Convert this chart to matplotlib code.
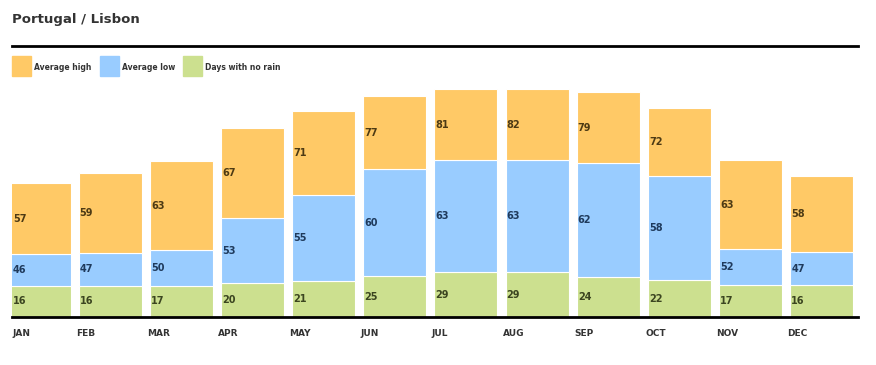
import numpy as np
import matplotlib.pyplot as plt

plt.rcParams["font.family"] = "DejaVu Sans"

# Data
months = ['JAN', 'FEB', 'MAR', 'APR', 'MAY', 'JUN', 'JUL', 'AUG', 'SEP', 'OCT', 'NOV', 'DEC']
avg_high = [57, 59, 63, 67, 71, 77, 81, 82, 79, 72, 63, 58]
avg_low = [46, 47, 50, 53, 55, 60, 63, 63, 62, 58, 52, 47]
dry_days = [16, 16, 17, 20, 21, 25, 29, 29, 24, 22, 17, 16]

# segment heights as drawn in the source chart (not proportional to the labels)
seg_dry = [31, 31, 31, 34, 36, 41, 45, 45, 40, 37, 32, 32]
seg_low = [32, 33, 36, 65, 86, 107, 112, 112, 114, 104, 36, 33]
seg_high = [71, 80, 89, 90, 84, 73, 71, 71, 71, 68, 89, 76]

c_high = '#FFC966'
c_low = '#99CCFF'
c_dry = '#CCE08F'
txt = '#333333'

W, H = 876, 365
fig = plt.figure(figsize=(W / 100, H / 100), dpi=100)

# axes: x 12..858 px, y 80..317 px
ax = fig.add_axes([12 / W, (H - 317) / H, 846 / W, 237 / H])
x = np.arange(len(months))
width = 0.886
x_left = -0.38

bot_low = np.array(seg_dry)
bot_high = bot_low + np.array(seg_low)
ax.bar(x, seg_dry, width, color=c_dry, edgecolor='white', linewidth=0.8)
ax.bar(x, seg_low, width, bottom=bot_low, color=c_low, edgecolor='white', linewidth=0.8)
ax.bar(x, seg_high, width, bottom=bot_high, color=c_high, edgecolor='white', linewidth=0.8)

ax.set_xlim(x_left, 11.51)
ax.set_ylim(0, 237)
ax.axis('off')
ax.axhline(0, color='black', linewidth=2, clip_on=False)

# value labels, left aligned inside each segment
for i in range(len(months)):
    lx = max(i - width / 2, x_left) + 0.015
    ax.text(lx, seg_dry[i] / 2, str(dry_days[i]), ha='left', va='center',
            fontsize=7, fontweight='bold', color='#3B4520')
    ax.text(lx, bot_low[i] + seg_low[i] / 2, str(avg_low[i]), ha='left', va='center',
            fontsize=7, fontweight='bold', color='#1F3A5C')
    ax.text(lx, bot_high[i] + seg_high[i] / 2, str(avg_high[i]), ha='left', va='center',
            fontsize=7, fontweight='bold', color='#4D3A14')
    mx = max(i - 0.48, x_left)
    ax.text(mx, -17, months[i], ha='left', va='center', fontsize=6.5,
            fontweight='bold', color=txt)

# title + rule
fig.text(12 / W, 1 - 19 / H, 'Portugal / Lisbon', ha='left', va='center',
         fontsize=9.5, fontweight='bold', color=txt)
fig.add_artist(plt.Line2D([12 / W, 858 / W], [1 - 46 / H, 1 - 46 / H],
                          color='black', linewidth=2))

# legend
items = [('Average high', c_high, 12), ('Average low', c_low, 100),
         ('Days with no rain', c_dry, 183)]
for label, col, px in items:
    fig.add_artist(plt.Rectangle((px / W, 1 - 76 / H), 19 / W, 20 / H,
                                 color=col, transform=fig.transFigure))
    fig.text((px + 22) / W, 1 - 67 / H, label, ha='left', va='center',
             fontsize=5.5, fontweight='bold', color=txt)

plt.savefig('out.png', dpi=100)
